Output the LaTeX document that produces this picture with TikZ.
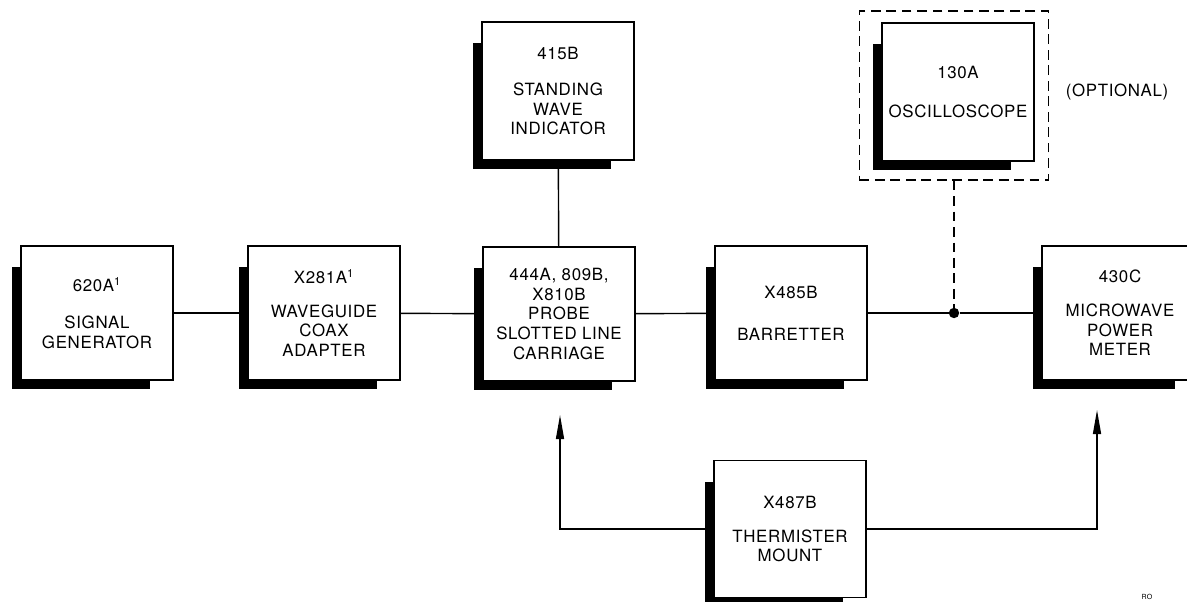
\documentclass[tikz,border=0pt]{standalone}
\usepackage{fontspec}
\setmainfont{TeX Gyre Heros}[LetterSpace=4]
\usetikzlibrary{
  positioning, arrows.meta, fit, calc, backgrounds
}

\begin{document}
\begin{tikzpicture}[
      x=0.025cm, y=-0.025cm,
      every node/.style={font=\fontsize{12}{14}\selectfont},
      box/.style={draw, line width=1.3pt, fill=white, minimum width=3.78cm,
        minimum height=3.35cm, align=center, inner sep=0pt},
      tall/.style={minimum height=3.45cm},
      link/.style={line width=1pt},
      optline/.style={line width=1pt, dash pattern=on 7pt off 4pt},
      junction/.style={circle, fill, inner sep=0pt, minimum size=2.6mm},
      >={Triangle[length=6mm,width=2mm]},
    ]
    \useasboundingbox (0,0) rectangle (1187,602);

    % main chain
    \node[box] (gen) at (97,313) {620A\textsuperscript{1}\\[12pt]SIGNAL\\GENERATOR};
    \node[box] (adapt) at (324,313) {X281A\textsuperscript{1}\\[10pt]WAVEGUIDE\\COAX\\ADAPTER};
    \node[box] (slot) at (559,314) {444A, 809B,\\X810B\\PROBE\\SLOTTED LINE\\CARRIAGE};
    \node[box] (bar) at (791,313) {X485B\\[16pt]BARRETTER};
    \node[box, minimum width=3.9cm] (meter) at (1120,313) {430C\\[10pt]MICROWAVE\\POWER\\METER};

    % upper row
    \node[box, tall] (swr) at (558,91) {415B\\[12pt]STANDING\\WAVE\\INDICATOR};
    \node[box, tall] (osc) at (958,92) {130A\\[14pt]OSCILLOSCOPE};
    \node[draw, optline, inner sep=0pt,
      fit={($(osc.north west)+(-22,-11)$) ($(osc.south east)+(14,18)$)}] (opt) {};
    \node (optlabel) at (1117,92) {(OPTIONAL)};

    % lower row
    \node[box, minimum height=3.42cm] (therm) at (790,529) {X487B\\[10pt]THERMISTER\\MOUNT};
    \coordinate (tipL) at (560,415);
    \coordinate (tipR) at (1097,410);
    \node[font=\fontsize{5}{6}\selectfont] (ro) at (1147,597) {RO};

    % shadows
    \begin{scope}[on background layer]
      \foreach \n in {gen,adapt,slot,swr,bar,meter,osc,therm}
        \fill ($(\n.north west)+(-8,22)$) rectangle ($(\n.south east)+(-24,8)$);
    \end{scope}

    \node[junction] (dot) at (opt.south |- bar.east) {};

    \draw[link] (gen) -- (adapt);
    \draw[link] (adapt) -- (slot);
    \draw[link] (slot) -- (bar);
    \draw[link] (bar) -- (dot) -- (meter);
    \draw[link] (swr) -- (slot);
    \draw[optline] (opt.south) -- (dot);
    \draw[link, ->] (therm.west) -| (tipL);
    \draw[link, ->] (therm.east) -| (tipR);
  \end{tikzpicture}
\end{document}
